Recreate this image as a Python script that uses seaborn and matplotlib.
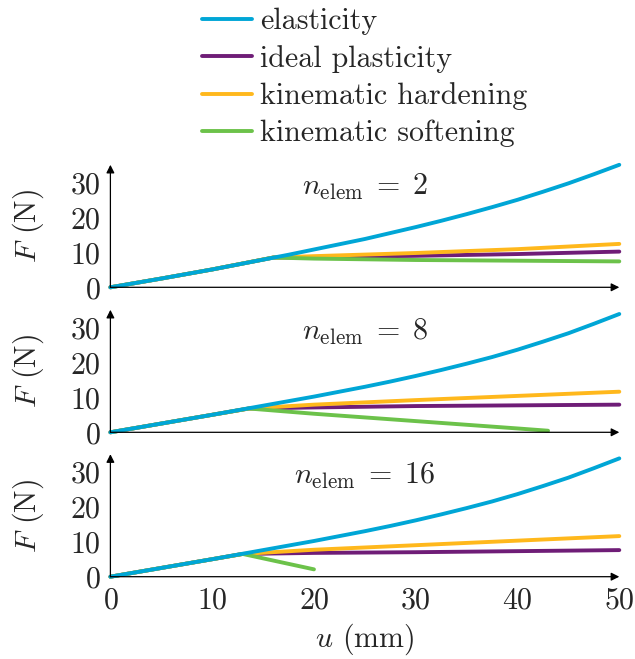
import matplotlib
matplotlib.use("Agg")
import matplotlib.pyplot as plt
from matplotlib.lines import Line2D
import seaborn as sns
import pandas as pd

# ---------------- data ----------------
models = ["elasticity", "ideal plasticity", "kinematic hardening", "kinematic softening"]
colors = ["#00A6D6", "#6F1D77", "#FFB81C", "#6CC24A"]
panel_labels = [r"$n_{\mathrm{elem}}\;=\;2$", r"$n_{\mathrm{elem}}\;=\;8$", r"$n_{\mathrm{elem}}\;=\;16$"]

u_el = [0, 2.5, 5, 7.5, 10, 12.5, 15, 17.5, 20, 22.5, 25, 27.5, 30, 32.5, 35, 37.5, 40, 42.5, 45, 47.5, 50]
F_el_2 = [0, 1.25, 2.5, 3.8, 5.1, 6.5, 7.9, 9.3, 10.8, 12.3, 13.8, 15.5, 17.2, 19.0, 20.9, 22.9, 25.0, 27.3, 29.7, 32.3, 35.0]
F_el_8 = [0, 1.25, 2.5, 3.75, 5.0, 6.3, 7.6, 8.9, 10.2, 11.6, 13.0, 14.5, 16.1, 17.8, 19.6, 21.5, 23.6, 25.9, 28.3, 31.0, 33.8]
F_el_16 = [0, 1.25, 2.5, 3.75, 5.0, 6.3, 7.6, 8.9, 10.2, 11.6, 13.0, 14.5, 16.1, 17.8, 19.6, 21.5, 23.6, 25.9, 28.3, 31.0, 33.8]

# n_elem = 2
u_pl_2 = [0, 5, 10, 16, 20, 30, 40, 50]
F_ideal_2 = [0, 2.5, 5.1, 8.5, 8.6, 9.0, 9.5, 10.2]
F_hard_2 = [0, 2.5, 5.1, 8.5, 8.9, 9.8, 10.9, 12.4]
F_soft_2 = [0, 2.5, 5.1, 8.5, 8.2, 7.8, 7.6, 7.4]
u_soft_2 = u_pl_2

# n_elem = 8
u_pl_8 = [0, 5, 10, 13.6, 20, 30, 40, 50]
F_ideal_8 = [0, 2.5, 5.0, 6.8, 7.1, 7.5, 7.7, 7.9]
F_hard_8 = [0, 2.5, 5.0, 6.8, 7.9, 9.2, 10.4, 11.6]
u_soft_8 = [0, 5, 10, 13.6, 20, 30, 40, 43]
F_soft_8 = [0, 2.5, 5.0, 6.8, 5.3, 3.2, 1.1, 0.45]

# n_elem = 16
u_pl_16 = [0, 5, 10, 13, 20, 30, 40, 50]
F_ideal_16 = [0, 2.5, 5.0, 6.5, 6.8, 7.0, 7.3, 7.6]
F_hard_16 = [0, 2.5, 5.0, 6.5, 7.7, 9.0, 10.3, 11.6]
u_soft_16 = [0, 5, 10, 13, 20]
F_soft_16 = [0, 2.5, 5.0, 6.5, 2.1]

x_ticks = [0, 10, 20, 30, 40, 50]
y_ticks = [0, 10, 20, 30]

panels = [
    (u_el, F_el_2, u_pl_2, F_ideal_2, F_hard_2, u_soft_2, F_soft_2),
    (u_el, F_el_8, u_pl_8, F_ideal_8, F_hard_8, u_soft_8, F_soft_8),
    (u_el, F_el_16, u_pl_16, F_ideal_16, F_hard_16, u_soft_16, F_soft_16),
]

# ---------------- style ----------------
sns.set_style("white")
plt.rcParams["font.family"] = ["cmr10", "DejaVu Serif"]
plt.rcParams["mathtext.fontset"] = "cm"
plt.rcParams["axes.formatter.use_mathtext"] = True
FS = 21.6

palette = dict(zip(models, colors))
draw_order = [models[1], models[2], models[3], models[0]]

fig = plt.figure(figsize=(6.35, 6.59), dpi=100)
left = 110.4 / 635
width = (619.3 - 110.4) / 635
zeros_px = [287.3, 432.3, 576.7]
h_px = 122.5
gray = "#9a9a9a"
lw = 2.8

for i, (ue, Fe, up, Fi, Fh, us, Fs) in enumerate(panels):
    bottom = 1 - zeros_px[i] / 659
    ax = fig.add_axes([left, bottom, width, h_px / 659])
    rows = []
    for uu, ff in zip(ue, Fe):
        rows.append((uu, ff, models[0]))
    for uu, ff in zip(up, Fi):
        rows.append((uu, ff, models[1]))
    for uu, ff in zip(up, Fh):
        rows.append((uu, ff, models[2]))
    for uu, ff in zip(us, Fs):
        rows.append((uu, ff, models[3]))
    df = pd.DataFrame(rows, columns=["u", "F", "model"])
    sns.lineplot(data=df, x="u", y="F", hue="model", hue_order=draw_order,
                 palette=palette, estimator=None, sort=False, legend=False,
                 linewidth=lw, ax=ax, clip_on=False)
    ax.set_xlim(0, 50)
    ax.set_ylim(0, 35)
    ax.set_xticks(x_ticks)
    ax.set_yticks(y_ticks)
    for s in ax.spines.values():
        s.set_visible(False)
    ax.tick_params(axis="both", which="major", direction="inout", length=8.5,
                   width=0.8, color=gray, labelsize=FS, pad=3)
    if i < 2:
        ax.tick_params(axis="x", labelbottom=False)
        ax.set_xlabel("")
    else:
        ax.set_xlabel(r"$u$ (mm)", fontsize=FS, labelpad=5)
    ax.set_ylabel(r"$F$ (N)", fontsize=FS, labelpad=17)
    ax.grid(False)
    # axis arrows
    ax.annotate("", xy=(1, 0), xytext=(0, 0), xycoords="axes fraction",
                arrowprops=dict(arrowstyle="-|>", color="black", lw=0.9,
                                mutation_scale=12, shrinkA=0, shrinkB=0))
    ax.annotate("", xy=(0, 1), xytext=(0, 0), xycoords="axes fraction",
                arrowprops=dict(arrowstyle="-|>", color="black", lw=0.9,
                                mutation_scale=12, shrinkA=0, shrinkB=0))
    ax.text(0.5, 0.82, panel_labels[i], transform=ax.transAxes, ha="center",
            va="center", fontsize=FS)

handles = [Line2D([0], [0], color=c, lw=lw) for c in colors]
fig.legend(handles, models, loc="center left", bbox_to_anchor=(202 / 635, 1 - 77.5 / 659),
           frameon=False, fontsize=FS, borderpad=0, borderaxespad=0,
           handlelength=1.65, handletextpad=0.3, labelspacing=0.32)

fig.savefig("out.png", dpi=100)
